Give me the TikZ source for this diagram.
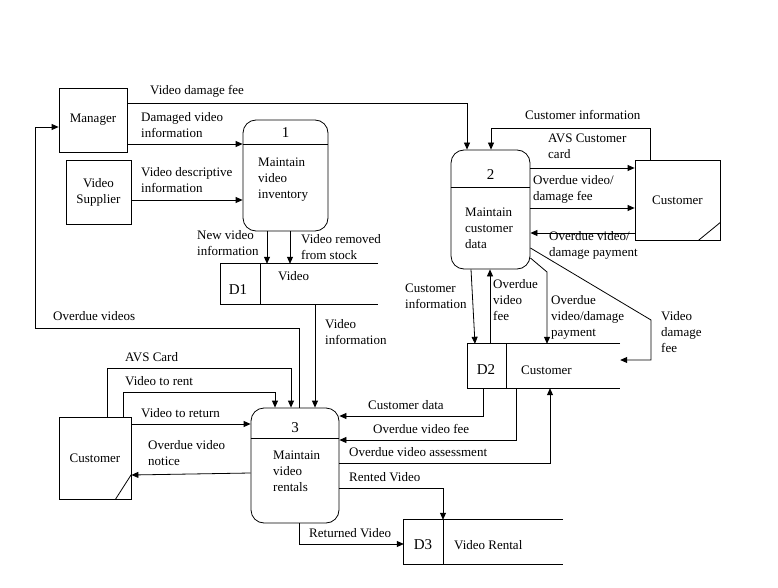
\documentclass[tikz,border=0pt]{standalone}
\usepackage{fontspec}
\setmainfont{Liberation Serif}
\usetikzlibrary{arrows.meta,positioning}

\begin{document}
\begin{tikzpicture}[x=1pt,y=-1pt,
    every node/.style={font=\fontsize{13}{16}\selectfont},
    lbl/.style={align=left,inner sep=0pt,anchor=west},
    big/.style={font=\fontsize{15}{16}\selectfont,inner sep=0pt},
    extbox/.style={draw,line width=0.8pt,inner sep=0pt,align=center},
    proc/.style={draw,line width=0.8pt,rounded corners=13pt,inner sep=0pt},
    store/.style={inner sep=0pt},
    flow/.style={-{Triangle[length=7pt,width=6pt]},line width=0.8pt},
    edge/.style={line width=0.8pt}]
    \useasboundingbox (0,0) rectangle (778,588);

    \node[extbox,minimum width=68,minimum height=64] (mgr) at (93,120) {Manager};
    \node[extbox,minimum width=65,minimum height=64] (sup) at (98.5,192) {Video\\Supplier};
    \node[extbox,minimum width=85,minimum height=80] (cr) at (677.5,200) {Customer};
    \node[extbox,minimum width=72,minimum height=82] (cl) at (95,458) {Customer};
    \draw[edge] ([xshift=-22]cr.south east) -- ([yshift=18]cr.south east);
    \draw[edge] ([xshift=-16]cl.south east) -- ([yshift=25]cl.south east);

    \node[proc,minimum width=85,minimum height=111] (p1) at (285.5,175.5) {};
    \draw[edge] (p1.west |- 0,144) -- (p1.east |- 0,144);
    \node[big] (n1) at (285.5,133) {1};
    \node[lbl] (t1) at (258,180) {Maintain\\video\\inventory};

    \node[proc,minimum width=79,minimum height=119] (p2) at (490.5,209.5) {};
    \draw[edge] (p2.west |- 0,187) -- (p2.east |- 0,187);
    \node[big] (n2) at (490.5,175) {2};
    \node[lbl] (t2) at (465,228) {Maintain\\customer\\data};

    \node[proc,minimum width=88,minimum height=115] (p3) at (295,465.5) {};
    \draw[edge] (p3.west |- 0,438) -- (p3.east |- 0,438);
    \node[big] (n3) at (295,428) {3};
    \node[lbl] (t3) at (273,471) {Maintain\\video\\rentals};

    \node[store,minimum width=157,minimum height=40] (d1) at (299.5,284) {};
    \draw[edge] (d1.north east) -- (d1.north west) -- (d1.south west) -- (d1.south east);
    \draw[edge] (d1.north -| 260,0) -- (d1.south -| 260,0);
    \node[big] (d1id) at (238,290) {D1};
    \node[lbl] (d1name) at (278,276) {Video};

    \node[store,minimum width=152,minimum height=44] (d2) at (544,366) {};
    \draw[edge] (d2.north east) -- (d2.north west) -- (d2.south west) -- (d2.south east);
    \draw[edge] (d2.north -| 506,0) -- (d2.south -| 506,0);
    \node[big] (d2id) at (486,370) {D2};
    \node[lbl] (d2name) at (521,370) {Customer};

    \node[store,minimum width=159,minimum height=44] (d3) at (483.5,542) {};
    \draw[edge] (d3.north east) -- (d3.north west) -- (d3.south west) -- (d3.south east);
    \draw[edge] (d3.north -| 443,0) -- (d3.south -| 443,0);
    \node[big] (d3id) at (423,545) {D3};
    \node[lbl] (d3name) at (454,545) {Video Rental};

    \draw[flow] (mgr.east |- 0,103) -| (p2.north -| 467,0);
    \draw[flow] (mgr.east |- 0,144) -- (p1.west |- 0,144);
    \draw[flow] (sup.east |- 0,200) -- (p1.west |- 0,200);
    \draw[flow] (p1.south -| 267,0) -- (d1.north -| 267,0);
    \draw[flow] (p1.south -| 290,0) -- (d1.north -| 290,0);
    \draw[flow] (d1.south -| 315,0) -- (p3.north -| 315,0);
    \draw[flow] (p3.north -| 299,0) |- (35,328) |- (mgr.west |- 0,127);

    \draw[flow] (cr.north -| 650,0) |- (491,128) -- (p2.north -| 491,0);
    \draw[flow] (p2.east |- 0,168) -- (cr.west |- 0,168);
    \draw[flow] (p2.east |- 0,208) -- (cr.west |- 0,208);
    \draw[flow] (cr.west |- 0,233) -- (p2.east |- 0,233);
    \draw[flow] (p2.south -| 471,0) -- (d2.north -| 475,0);
    \draw[flow] (d2.north -| 490,0) -- (p2.south -| 490,0);
    \draw[flow] (p2.east |- 0,258) -- (547,272) -- (d2.north -| 547,0);
    \draw[flow] (p2.east |- 0,248) -- (651,320) |- (d2.east |- 0,360);

    \draw[flow] (cl.north -| 107,0) |- (291,368) -- (p3.north -| 291,0);
    \draw[flow] (cl.north -| 123,0) |- (275,392) -- (p3.north -| 275,0);
    \draw[flow] (cl.east |- 0,424) -- (p3.west |- 0,424);
    \draw[flow] (p3.west |- 0,473) -- (cl.east |- 0,475);
    \draw[flow] (d2.south -| 483,0) |- (p3.east |- 0,416);
    \draw[flow] (d2.south -| 516,0) |- (p3.east |- 0,440);
    \draw[flow] (p3.east |- 0,463) -| (d2.south -| 550,0);
    \draw[flow] (p3.east |- 0,488) -| (d3.north -| 443,0);
    \draw[flow] (p3.south -| 299,0) |- (d3.west |- 0,544);

    \node[lbl] (l1) at (150,91) {Video damage fee};
    \node[lbl] (l2) at (141,125) {Damaged video\\information};
    \node[lbl] (l3) at (141,180) {Video descriptive\\information};
    \node[lbl] (l4) at (197,243) {New video\\information};
    \node[lbl] (l5) at (301,247) {Video removed\\from stock};
    \node[lbl] (l6) at (325,332) {Video\\information};
    \node[lbl] (l7) at (53,316) {Overdue videos};
    \node[lbl] (l8) at (525,115) {Customer information};
    \node[lbl] (l9) at (548,146) {AVS Customer\\card};
    \node[lbl] (l10) at (533,189) {Overdue video/\\damage fee};
    \node[lbl] (l11) at (549,245) {Overdue video/\\damage payment};
    \node[lbl] (l12) at (405,296) {Customer\\information};
    \node[lbl] (l13) at (493,300) {Overdue\\video\\fee};
    \node[lbl] (l14) at (551,317) {Overdue\\video/damage\\payment};
    \node[lbl] (l15) at (661,332) {Video\\damage\\fee};
    \node[lbl] (l16) at (125,357) {AVS Card};
    \node[lbl] (l17) at (125,381) {Video to rent};
    \node[lbl] (l18) at (141,413) {Video to return};
    \node[lbl] (l19) at (148,453) {Overdue video\\notice};
    \node[lbl] (l20) at (368,405) {Customer data};
    \node[lbl] (l21) at (373,429) {Overdue video fee};
    \node[lbl] (l22) at (349,452) {Overdue video assessment};
    \node[lbl] (l23) at (349,477) {Rented Video};
    \node[lbl] (l24) at (309,533) {Returned Video};
\end{tikzpicture}
\end{document}
